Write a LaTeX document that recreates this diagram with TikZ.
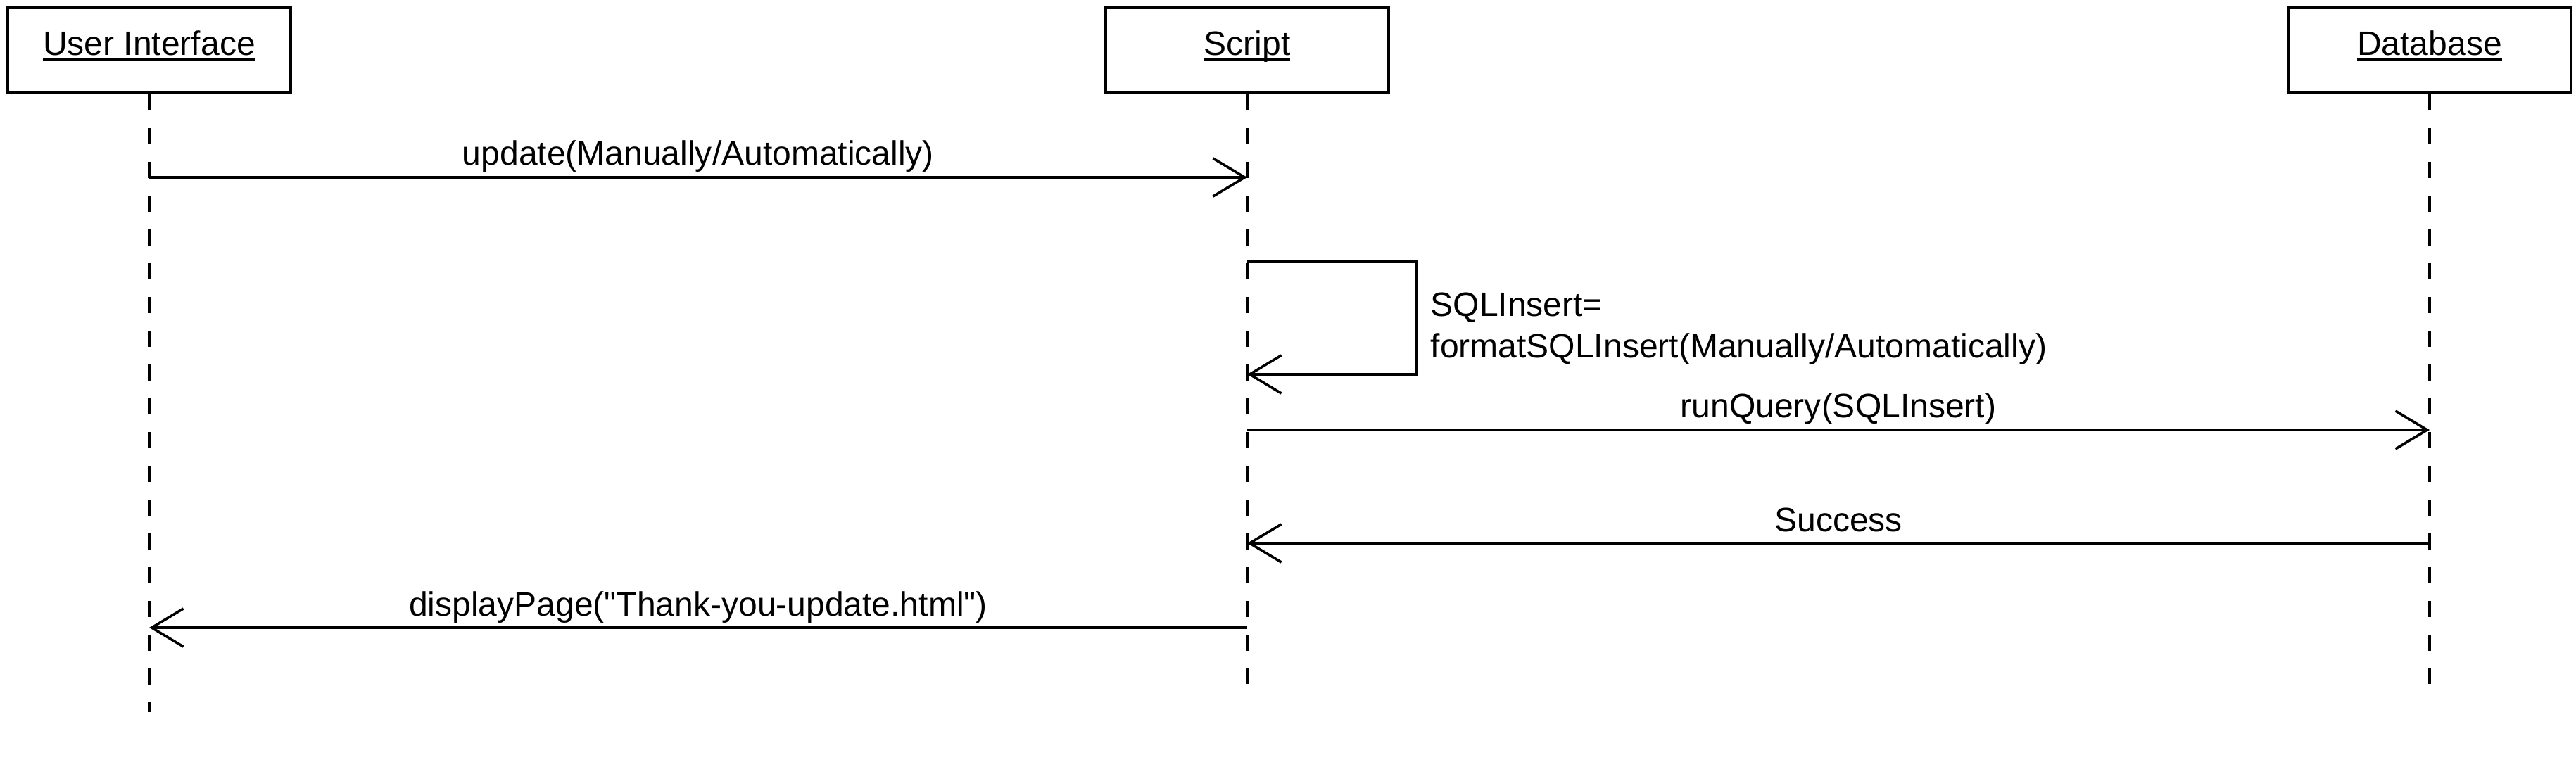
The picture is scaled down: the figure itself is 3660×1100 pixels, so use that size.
\documentclass[tikz,border=0pt]{standalone}
\usepackage{fontspec}
\setmainfont{Liberation Sans}
\usetikzlibrary{arrows.meta}
\newcommand{\ulabel}[1]{\setbox0\hbox{#1}\rlap{\copy0}\rule[-2.2pt]{\wd0}{0.95pt}}
\newcommand{\dq}{\XeTeXglyph\XeTeXglyphindex "quotedbl"\relax}
\begin{document}
\begin{tikzpicture}[x=0.01cm,y=-0.01cm,
  lifebox/.style={draw, line width=0.035cm, minimum width=4.02cm, minimum height=1.21cm, inner sep=0},
  lifeline/.style={line width=0.033cm, dash pattern=on 0.23cm off 0.25cm},
  msg/.style={line width=0.036cm, -{Straight Barb[length=0.45cm,width=0.54cm]}},
  lbl/.style={font=\fontsize{13.66pt}{16.5pt}\selectfont, inner sep=0}]
\fill[white] (0,0) rectangle (3660,1100);
\useasboundingbox (0,0) rectangle (3660,1100);

% lifeline heads
\node[lifebox] (ui) at (212,71.5) {};
\node[lifebox] (sc) at (1772,71.5) {};
\node[lifebox] (db) at (3452,71.5) {};
\node[lbl, anchor=base] (uit) at (212,78) {\ulabel{User Interface}};
\node[lbl, anchor=base] (sct) at (1772,78) {\ulabel{Script}};
\node[lbl, anchor=base] (dbt) at (3452,78) {\ulabel{Database}};

% lifeline ends
\coordinate (uiend) at (0,1012);
\coordinate (end) at (0,972);
\draw[lifeline] (ui.south) -- (ui |- uiend);
\draw[lifeline] (sc.south) -- (sc |- end);
\draw[lifeline] (db.south) -- (db |- end);

% message levels
\coordinate (m1) at (0,252);
\coordinate (s1) at (0,372);
\coordinate (s2) at (0,532);
\coordinate (m3) at (0,611);
\coordinate (m4) at (0,772);
\coordinate (m5) at (0,892);

\draw[msg] (ui |- m1) -- (sc |- m1)
  node[lbl, midway, anchor=base, yshift=0.17cm] {update(Manually/Automatically)};
\draw[msg] (sc |- s1) -- ++(241,0) |- (sc |- s2);
\node[lbl, anchor=base west, align=left] (selft) at (2032,508)
  {SQLInsert=\\formatSQLInsert(Manually/Automatically)};
\draw[msg] (sc |- m3) -- (db |- m3)
  node[lbl, midway, anchor=base, yshift=0.17cm] {runQuery(SQLInsert)};
\draw[msg] (db |- m4) -- (sc |- m4)
  node[lbl, midway, anchor=base, yshift=0.17cm] {Success};
\draw[msg] (sc |- m5) -- (ui |- m5)
  node[lbl, midway, anchor=base, yshift=0.17cm] {displayPage(\dq Thank-you-update.html\dq)};
\end{tikzpicture}
\end{document}
